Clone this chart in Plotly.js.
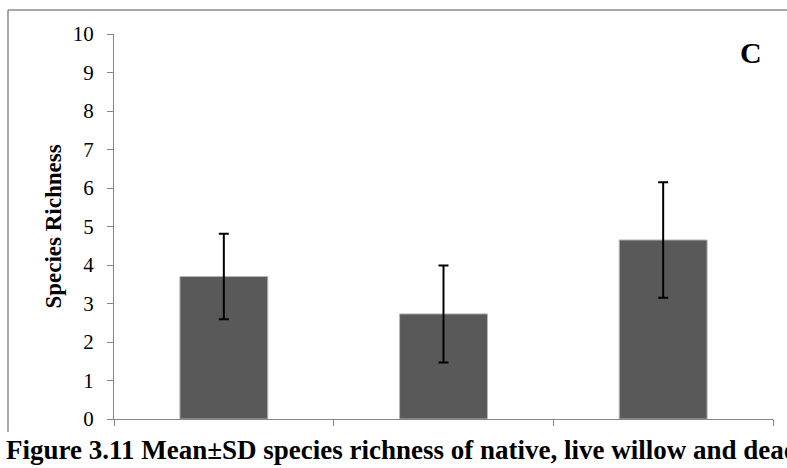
<!DOCTYPE html>
<html>
<head>
<meta charset="utf-8">
<script src="https://cdn.plot.ly/plotly-3.0.1.min.js"></script>
<style>
  html, body { margin: 0; padding: 0; background: #ffffff; overflow: hidden; }
  #chart { width: 787px; height: 468px; }
</style>
</head>
<body>
<div id="chart"></div>
<script>
// Site types and species richness (mean and standard deviation)
const sites = ["Native", "Live Willow", "Dead Willow"];
const meanRichness = [3.70, 2.73, 4.65];
const sdRichness = [1.11, 1.26, 1.50];
const yTicks = [0, 1, 2, 3, 4, 5, 6, 7, 8, 9, 10];

const serif = "Liberation Serif, Times New Roman, serif";
const axisGrey = "#868686";

const trace = {
  type: "bar",
  x: sites,
  y: meanRichness,
  marker: { color: "#595959", line: { color: "#b5b5b5", width: 1 } },
  error_y: {
    type: "data",
    array: sdRichness,
    visible: true,
    color: "#000000",
    thickness: 2,
    width: 5
  },
  hoverinfo: "x+y"
};

const layout = {
  width: 787,
  height: 468,
  margin: { l: 114, r: 14, t: 34, b: 49 },
  paper_bgcolor: "#ffffff",
  plot_bgcolor: "#ffffff",
  showlegend: false,
  bargap: 0.6,
  font: { family: serif, color: "#000000" },
  xaxis: {
    type: "category",
    showline: true,
    linecolor: axisGrey,
    linewidth: 1,
    ticks: "outside",
    tickson: "boundaries",
    ticklen: 6,
    tickcolor: axisGrey,
    showticklabels: false,
    showgrid: false,
    zeroline: false
  },
  yaxis: {
    range: [0, 10],
    tickvals: yTicks,
    ticktext: yTicks.map(String),
    showline: true,
    linecolor: axisGrey,
    linewidth: 1,
    ticks: "outside",
    ticklen: 6,
    tickcolor: axisGrey,
    tickfont: { family: serif, size: 21, color: "#000000" },
    ticklabelstandoff: 9,
    showgrid: false,
    zeroline: false,
    title: {
      text: "<b>Species Richness</b>",
      font: { family: serif, size: 23, color: "#000000" },
      standoff: 4
    }
  },
  shapes: [
    // chart frame: top and left edges
    { type: "line", xref: "paper", yref: "paper",
      x0: (8 - 114) / 659, x1: 1.03, y0: (419 - 10) / 385, y1: (419 - 10) / 385,
      line: { color: "#8c8c8c", width: 1.5 } },
    { type: "line", xref: "paper", yref: "paper",
      x0: (8 - 114) / 659, x1: (8 - 114) / 659, y0: (419 - 10) / 385, y1: (419 - 432) / 385,
      line: { color: "#8c8c8c", width: 1.5 } }
  ],
  annotations: [
    { text: "<b>C</b>", xref: "paper", yref: "paper",
      x: (751 - 114) / 659, y: (419 - 52) / 385,
      xanchor: "center", yanchor: "middle", showarrow: false,
      font: { family: serif, size: 30, color: "#000000" } },
    { text: "<b>Figure 3.11 Mean±SD species richness of native, live willow and dead willow</b>",
      xref: "paper", yref: "paper",
      x: (4 - 114) / 659, y: (419 - 450) / 385,
      xanchor: "left", yanchor: "middle", showarrow: false,
      bgcolor: "#ffffff",
      font: { family: serif, size: 27, color: "#000000" } }
  ]
};

Plotly.newPlot("chart", [trace], layout, { displayModeBar: false, staticPlot: true });
</script>
</body>
</html>
